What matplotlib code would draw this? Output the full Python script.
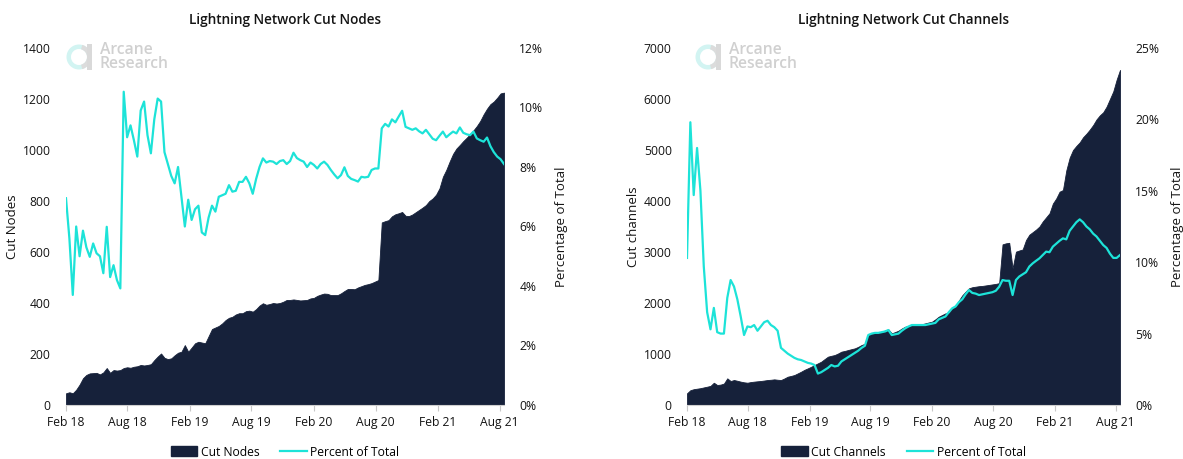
import numpy as np
import pandas as pd
import matplotlib
matplotlib.use("Agg")
import matplotlib.pyplot as plt
import matplotlib.dates as mdates
from matplotlib.patches import Patch, Wedge, Rectangle
from matplotlib.lines import Line2D
from matplotlib.ticker import FuncFormatter, MultipleLocator

plt.rcParams["font.family"] = ["Open Sans", "DejaVu Sans"]

# one sample every 10 days, Feb 2018 -> Aug 2021
DATES = pd.date_range("2018-02-01", periods=130, freq="10D")

NODES_CUT = [
    46, 50, 46, 60, 80, 105, 118, 124, 125, 126,
    120, 128, 145, 126, 137, 135, 137, 145, 148, 146,
    150, 152, 157, 155, 157, 160, 176, 190, 202, 185,
    180, 183, 195, 205, 209, 235, 209, 225, 242, 248,
    245, 242, 270, 298, 304, 310, 320, 333, 342, 346,
    355, 360, 360, 368, 370, 366, 376, 390, 399, 393,
    396, 400, 398, 400, 405, 412, 412, 414, 412, 410,
    411, 412, 418, 420, 428, 433, 437, 436, 431, 431,
    431, 438, 447, 455, 455, 454, 461, 466, 471, 474,
    478, 484, 490, 716, 721, 725, 740, 748, 752, 757,
    742, 741, 747, 756, 765, 774, 784, 800, 810, 825,
    850, 895, 922, 955, 985, 1006, 1020, 1035, 1048, 1062,
    1077, 1094, 1114, 1140, 1162, 1180, 1190, 1205, 1222, 1225,
]
NODES_PCT = [
    6.95, 5.6, 3.7, 6.0, 5.0, 5.86, 5.3, 4.98, 5.43, 5.1,
    5.0, 4.43, 5.99, 4.3, 4.7, 4.2, 3.92, 10.53, 9.0, 9.4,
    8.9, 8.35, 9.9, 10.2, 9.07, 8.46, 9.6, 10.3, 10.2, 8.5,
    8.1, 7.7, 7.45, 8.0, 7.0, 6.0, 6.9, 6.22, 6.58, 6.7,
    5.8, 5.71, 6.3, 6.7, 6.5, 7.0, 7.05, 7.1, 7.39, 7.17,
    7.2, 7.5, 7.5, 7.67, 7.45, 7.1, 7.6, 8.0, 8.29, 8.15,
    8.2, 8.18, 8.1, 8.2, 8.23, 8.1, 8.2, 8.48, 8.3, 8.23,
    8.18, 8.0, 8.15, 8.07, 7.95, 8.1, 8.18, 8.07, 7.9, 7.75,
    7.62, 7.73, 7.99, 7.7, 7.6, 7.56, 7.51, 7.67, 7.65, 7.67,
    7.9, 7.95, 7.95, 9.3, 9.45, 9.36, 9.6, 9.5, 9.7, 9.89,
    9.35, 9.3, 9.25, 9.3, 9.2, 9.13, 9.25, 9.1, 8.95, 8.9,
    9.05, 9.19, 9.0, 9.1, 9.19, 9.13, 9.33, 9.15, 9.1, 9.07,
    9.19, 8.96, 8.9, 8.85, 8.99, 8.7, 8.5, 8.35, 8.26, 8.1,
]
CHANNELS_CUT = [
    229, 290, 310, 320, 330, 345, 359, 375, 437, 392,
    400, 420, 523, 470, 490, 475, 458, 445, 437, 450,
    458, 465, 471, 480, 490, 495, 503, 495, 490, 520,
    555, 570, 588, 620, 653, 690, 719, 750, 784, 817,
    850, 900, 948, 965, 980, 1010, 1046, 1060, 1078, 1095,
    1111, 1140, 1176, 1200, 1392, 1398, 1405, 1420, 1438, 1460,
    1483, 1405, 1430, 1457, 1500, 1536, 1550, 1568, 1568, 1568,
    1585, 1601, 1618, 1634, 1680, 1732, 1765, 1797, 1800, 1895,
    1928, 2050, 2150, 2222, 2288, 2310, 2320, 2330, 2335, 2345,
    2355, 2365, 2375, 2390, 3150, 3170, 3180, 2680, 3007, 3030,
    3050, 3235, 3340, 3390, 3440, 3500, 3600, 3680, 3760, 3950,
    4050, 4183, 4215, 4600, 4850, 5000, 5080, 5150, 5250, 5320,
    5400, 5490, 5600, 5680, 5740, 5850, 6000, 6150, 6380, 6570,
]
CHANNELS_PCT = [
    10.3, 19.8, 14.7, 18.0, 15.0, 9.7, 6.5, 5.3, 6.8, 5.1,
    5.0, 5.0, 7.5, 8.75, 8.3, 7.4, 6.2, 4.9, 5.5, 5.45,
    5.6, 5.2, 5.5, 5.8, 5.9, 5.6, 5.45, 5.2, 4.0, 3.8,
    3.6, 3.45, 3.3, 3.2, 3.15, 3.05, 2.95, 2.9, 2.8, 2.2,
    2.3, 2.45, 2.6, 2.8, 2.7, 2.75, 3.05, 3.2, 3.35, 3.5,
    3.65, 3.8, 4.0, 4.15, 4.9, 5.0, 5.05, 5.05, 5.1, 5.15,
    5.25, 4.9, 4.95, 5.0, 5.2, 5.37, 5.5, 5.6, 5.6, 5.6,
    5.6, 5.6, 5.65, 5.7, 5.75, 6.0, 6.1, 6.2, 6.5, 6.77,
    6.9, 7.2, 7.4, 7.75, 8.05, 7.85, 7.8, 7.7, 7.75, 7.8,
    7.85, 7.9, 8.0, 8.28, 8.75, 8.7, 8.7, 7.7, 8.75, 9.0,
    9.15, 9.3, 9.7, 9.92, 10.1, 10.27, 10.5, 10.74, 10.7, 11.09,
    11.3, 11.5, 11.67, 11.6, 12.2, 12.5, 12.8, 13.0, 12.8, 12.5,
    12.3, 12.0, 11.8, 11.5, 11.2, 11.0, 10.6, 10.3, 10.3, 10.5,
]

NAVY = "#16213a"
CYAN = "#1de3d8"
TXT = "#141414"
W, H = 1183, 459


def px_rect(left, right, top, bottom):
    return [left / W, 1 - bottom / H, (right - left) / W, (bottom - top) / H]


def panel(fig, rect, title, counts, pct, ymax, ystep, pmax, pstep,
          ylabel, count_name):
    ax = fig.add_axes(rect)
    ax.fill_between(DATES, 0, counts, color=NAVY, lw=0.6, edgecolor=NAVY)
    ax.set_xlim(DATES[0], DATES[-1])
    ax.set_ylim(0, ymax)
    ax.yaxis.set_major_locator(MultipleLocator(ystep))

    ax2 = ax.twinx()
    ax2.plot(DATES, pct, color=CYAN, lw=1.6)
    ax2.set_ylim(0, pmax)
    ax2.yaxis.set_major_locator(MultipleLocator(pstep))
    ax2.yaxis.set_major_formatter(FuncFormatter(lambda v, _: f"{v:.0f}%"))

    for a in (ax, ax2):
        for s in ("top", "left", "right"):
            a.spines[s].set_visible(False)
        a.tick_params(axis="y", length=0, pad=11, labelsize=8.7, labelcolor=TXT)
    ax.spines["bottom"].set_color("#d0d0d0")
    ax2.spines["bottom"].set_visible(False)

    ax.xaxis.set_major_locator(mdates.MonthLocator(bymonth=(2, 8)))
    ax.xaxis.set_major_formatter(mdates.DateFormatter("%b %y"))
    ax.tick_params(axis="x", length=4, color="#c8c8c8", pad=4,
                   labelsize=8.7, labelcolor=TXT)

    ax.set_title(title, fontsize=9.8, fontweight="semibold", color=TXT, pad=17)
    ax.set_ylabel(ylabel, fontsize=9.5, color=TXT, labelpad=3)
    ax2.set_ylabel("Percentage of Total", fontsize=9.5, color=TXT, labelpad=8)

    handles = [Patch(facecolor=NAVY, edgecolor=NAVY),
               Line2D([], [], color=CYAN, lw=1.6)]
    ax.legend(handles, [count_name, "Percent of Total"], loc="center",
              bbox_to_anchor=(0.5, -0.132), ncol=2, frameon=False,
              fontsize=8.7, handlelength=2.2, handleheight=0.9,
              handletextpad=0.3, columnspacing=1.7)
    return ax, ax2


def logo(ov, cx, cy, tx):
    ov.add_patch(Wedge((cx, cy), 12.5, 0, 360, width=4.5, color="#d2f4f2", lw=0))
    ov.add_patch(Wedge((cx, cy), 12.5, -75, 75, width=4.5, color="#dcdcdc", lw=0))
    ov.add_patch(Rectangle((cx + 8.5, cy - 13), 4.2, 26, color="#d9d9d9", lw=0))
    ov.text(tx, cy - 7, "Arcane", fontsize=11.3, color="#d0d0d0",
            fontweight="semibold", va="center", ha="left")
    ov.text(tx, cy + 7, "Research", fontsize=11.3, color="#d0d0d0",
            fontweight="semibold", va="center", ha="left")


fig = plt.figure(figsize=(W / 100, H / 100), dpi=100)

panel(fig, px_rect(66, 504, 48, 405), "Lightning Network Cut Nodes",
      NODES_CUT, NODES_PCT, 1400, 200, 12, 2, "Cut Nodes", "Cut Nodes")
panel(fig, px_rect(687, 1120, 48, 405), "Lightning Network Cut Channels",
      CHANNELS_CUT, CHANNELS_PCT, 7000, 1000, 25, 5, "Cut channels", "Cut Channels")

# watermark overlay in pixel coordinates
ov = fig.add_axes([0, 0, 1, 1], zorder=5)
ov.set_xlim(0, W)
ov.set_ylim(H, 0)
ov.axis("off")
ov.patch.set_alpha(0)
logo(ov, 79, 57, 100)
logo(ov, 708, 57, 729)

fig.savefig("out.png", dpi=100)
